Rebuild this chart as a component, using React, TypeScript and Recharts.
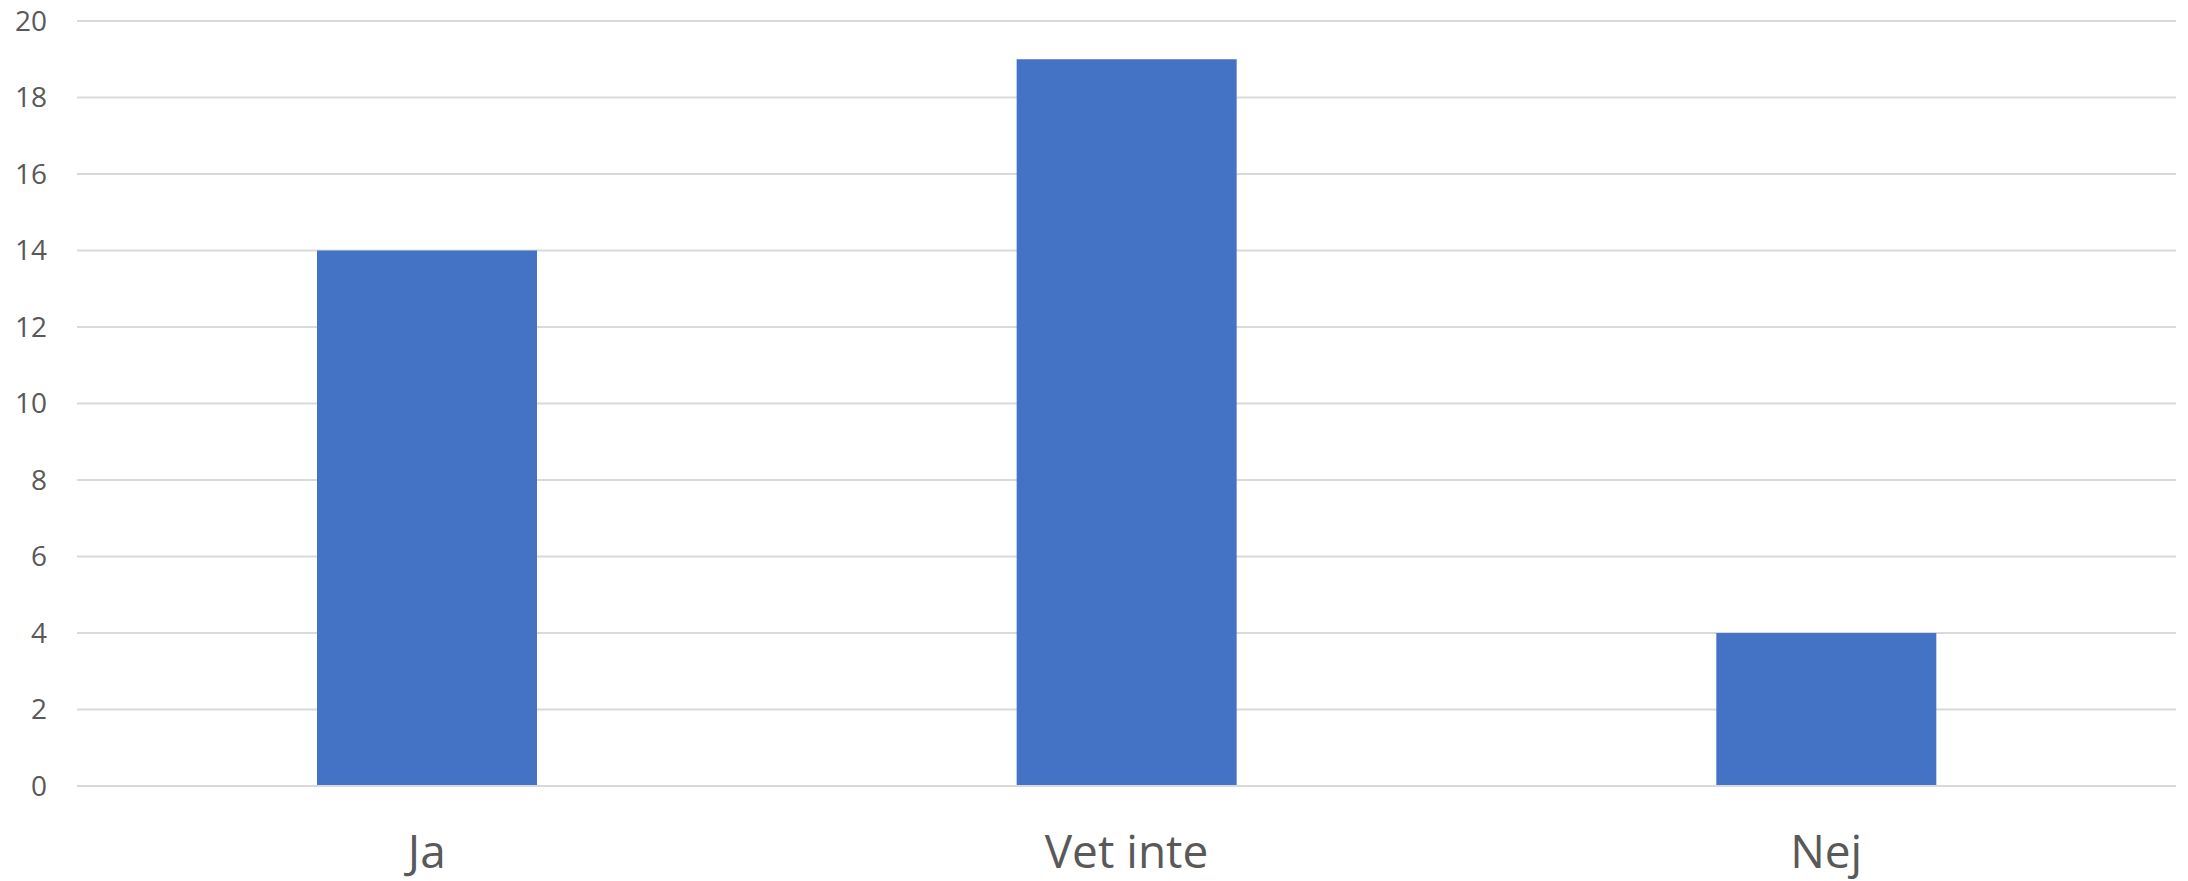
import React from 'react';
import { BarChart, Bar, XAxis, YAxis, CartesianGrid } from 'recharts';

const categories = ['Ja', 'Vet inte', 'Nej'];
const values = [14, 19, 4];
const yTicks = [0, 2, 4, 6, 8, 10, 12, 14, 16, 18, 20];

const data = categories.map((name, i) => ({ name, value: values[i] }));

export default function App() {
  return (
    <div style={{ position: 'absolute', left: 0, top: 0, width: 2188, height: 881, background: '#fff' }}>
      <BarChart
        width={2188}
        height={881}
        data={data}
        margin={{ top: 21, right: 12, left: 0, bottom: 0 }}
        barCategoryGap="34.3%"
      >
        <CartesianGrid vertical={false} stroke="#d9d9d9" strokeWidth={2} />
        <XAxis
          dataKey="name"
          height={95}
          axisLine={{ stroke: '#d9d9d9', strokeWidth: 2 }}
          tickLine={false}
          tickSize={0}
          tickMargin={49}
          tick={{ fill: '#595959', fontSize: 46, fontFamily: 'Open Sans' }}
        />
        <YAxis
          width={77}
          domain={[0, 20]}
          ticks={yTicks}
          interval={0}
          axisLine={false}
          tickLine={false}
          tickSize={0}
          tickMargin={30}
          tick={{ fill: '#595959', fontSize: 28, fontFamily: 'Open Sans' }}
        />
        <Bar dataKey="value" fill="#4472C4" isAnimationActive={false} />
      </BarChart>
    </div>
  );
}
